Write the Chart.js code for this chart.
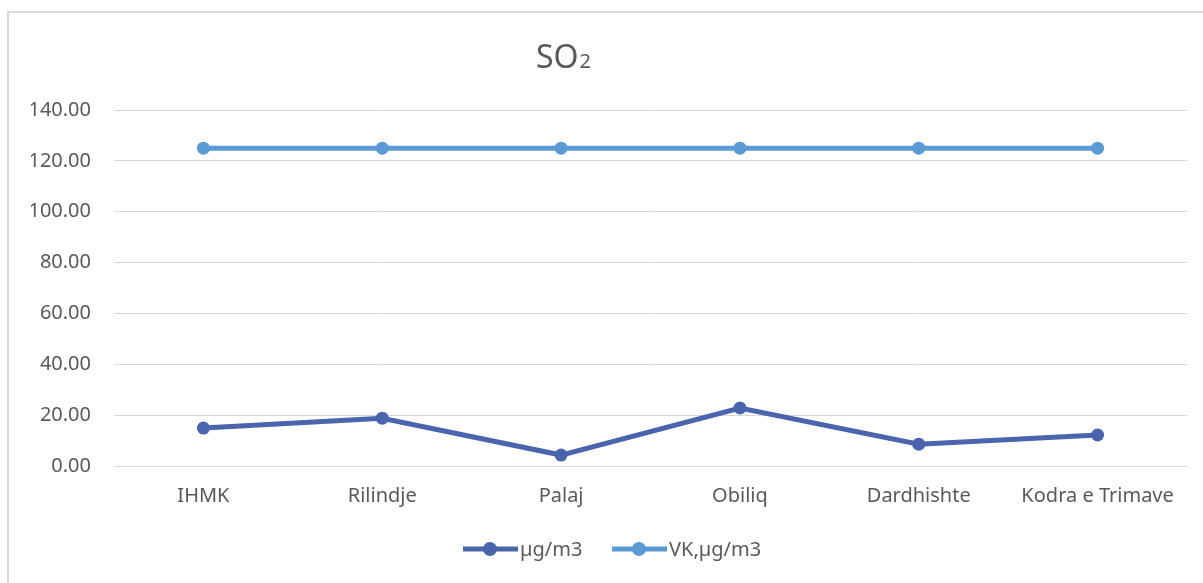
<!DOCTYPE html>
<html>
<head>
<meta charset="utf-8">
<script src="https://cdn.jsdelivr.net/npm/chart.js@4.4.0/dist/chart.umd.min.js"></script>
<style>
  html, body { margin: 0; padding: 0; background: #fff; overflow: hidden; }
  #wrap { position: relative; width: 1203px; height: 583px; }
  #frame { position: absolute; left: 7px; top: 11px; width: 1300px; height: 700px; border: 2px solid #d9d9d9; box-sizing: border-box; }
  #chart { position: absolute; left: 0; top: 0; }
</style>
</head>
<body>
<div id="wrap">
  <div id="frame"></div>
  <canvas id="chart" width="1203" height="583"></canvas>
</div>
<script>
const categories = ['IHMK', 'Rilindje', 'Palaj', 'Obiliq', 'Dardhishte', 'Kodra e Trimave'];
const measured = [14.9, 18.8, 4.3, 22.8, 8.6, 12.2];
const limitValues = [125, 125, 125, 125, 125, 125];
const seriesNames = ['µg/m3', 'VK,µg/m3'];
const seriesColors = ['#4a65ad', '#5b9bd5'];

const FONT = '"Noto Sans", "Open Sans", sans-serif';
const TEXT_COLOR = '#595959';

// title with the small "2", drawn on top of the chart
const titlePlugin = {
  id: 'so2Title',
  afterDraw(chart) {
    const ctx = chart.ctx;
    ctx.save();
    ctx.fillStyle = TEXT_COLOR;
    ctx.textBaseline = 'alphabetic';
    ctx.font = '32px ' + FONT;
    const w1 = ctx.measureText('SO').width;
    ctx.font = '20px ' + FONT;
    const w2 = ctx.measureText('2').width;
    const x = 563 - (w1 + w2) / 2;
    ctx.font = '32px ' + FONT;
    ctx.fillText('SO', x, 68);
    ctx.font = '20px ' + FONT;
    ctx.fillText('2', x + w1 + 1, 68);
    ctx.restore();
  }
};

// legend: line segment with a dot, then label
const legendPlugin = {
  id: 'lineLegend',
  afterDraw(chart) {
    const ctx = chart.ctx;
    ctx.save();
    ctx.font = '20px ' + FONT;
    ctx.textBaseline = 'middle';
    const y = 549;
    const starts = [463, 612];
    chart.data.datasets.forEach((ds, i) => {
      const x = starts[i];
      ctx.strokeStyle = ds.borderColor;
      ctx.lineWidth = 5;
      ctx.beginPath();
      ctx.moveTo(x, y);
      ctx.lineTo(x + 55, y);
      ctx.stroke();
      ctx.fillStyle = ds.borderColor;
      ctx.beginPath();
      ctx.arc(x + 27, y, 7, 0, Math.PI * 2);
      ctx.fill();
      ctx.fillStyle = TEXT_COLOR;
      ctx.fillText(ds.label, x + 57, y + 1);
    });
    ctx.restore();
  }
};

new Chart(document.getElementById('chart'), {
  type: 'line',
  data: {
    labels: categories,
    datasets: [
      {
        label: seriesNames[0],
        data: measured,
        borderColor: seriesColors[0],
        backgroundColor: seriesColors[0],
        borderWidth: 5,
        pointRadius: 6.5,
        pointBorderWidth: 0,
        tension: 0
      },
      {
        label: seriesNames[1],
        data: limitValues,
        borderColor: seriesColors[1],
        backgroundColor: seriesColors[1],
        borderWidth: 5,
        pointRadius: 6.5,
        pointBorderWidth: 0,
        tension: 0
      }
    ]
  },
  options: {
    responsive: false,
    animation: false,
    layout: { padding: { left: 31, right: 16, top: 110, bottom: 76 } },
    plugins: {
      legend: { display: false },
      title: { display: false },
      tooltip: { enabled: false }
    },
    scales: {
      x: {
        offset: true,
        grid: { display: false, drawTicks: false },
        border: { display: true, color: '#d9d9d9', width: 1 },
        ticks: { color: TEXT_COLOR, font: { family: FONT, size: 20 }, padding: 18, maxRotation: 0, autoSkip: false },
        afterFit(scale) { scale.height = 41; }
      },
      y: {
        min: 0,
        max: 140,
        grid: { color: '#d9d9d9', lineWidth: 1, drawTicks: false },
        border: { display: false },
        ticks: {
          stepSize: 20,
          color: TEXT_COLOR,
          font: { family: FONT, size: 20 },
          padding: 23,
          callback: (v) => v.toFixed(2)
        },
        afterFit(scale) { scale.width = 83; }
      }
    }
  },
  plugins: [titlePlugin, legendPlugin]
});
</script>
</body>
</html>
